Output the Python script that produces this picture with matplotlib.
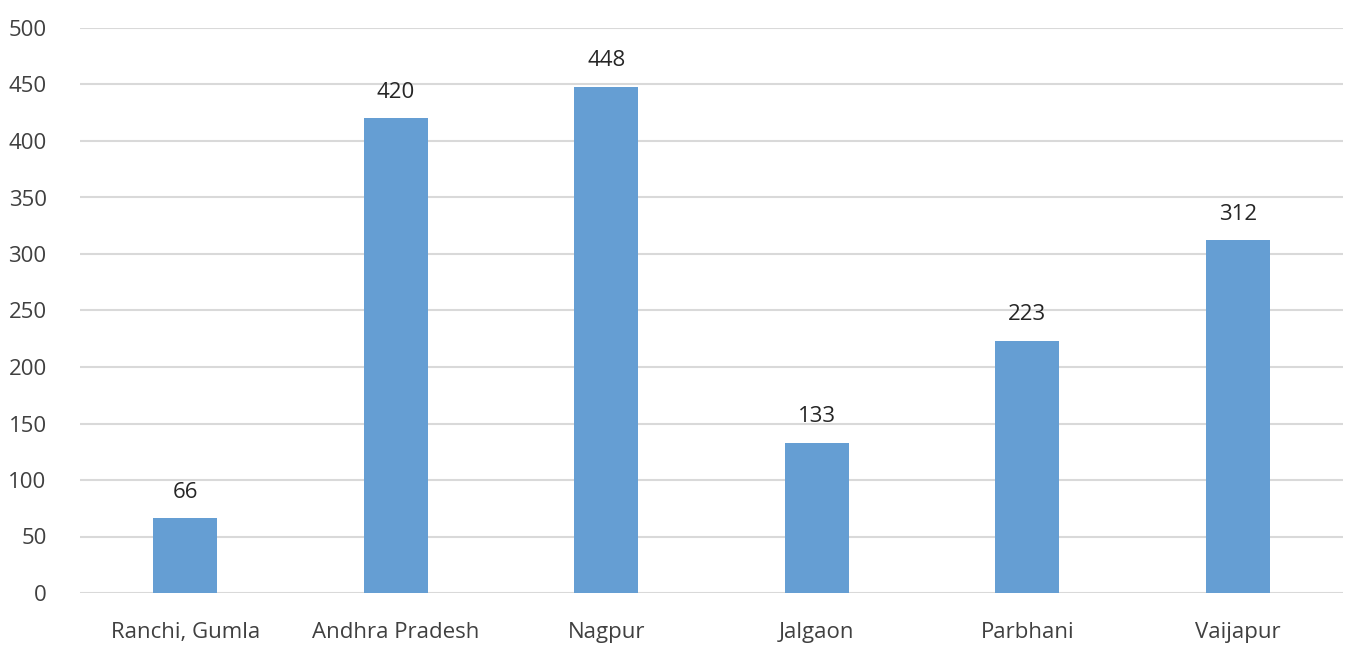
import matplotlib
matplotlib.use("Agg")
import matplotlib.pyplot as plt

categories = ["Ranchi, Gumla", "Andhra Pradesh", "Nagpur", "Jalgaon", "Parbhani", "Vaijapur"]
values = [66, 420, 448, 133, 223, 312]
yticks = [0, 50, 100, 150, 200, 250, 300, 350, 400, 450, 500]

plt.rcParams['font.family'] = ['Open Sans', 'DejaVu Sans']

fig = plt.figure(figsize=(13.46, 6.46), dpi=100)
ax = fig.add_axes([80/1346, 1-593/646, (1343-80)/1346, (593-28)/646])

x = list(range(len(categories)))
bars = ax.bar(x, values, width=0.305, color='#659ed3', zorder=3)
for xi, v in zip(x, values):
    ax.text(xi, v + 14, str(v), ha='center', va='bottom', fontsize=16, color='#262626')

ax.set_xlim(-0.5, len(categories) - 0.5)
ax.set_ylim(0, 500)
ax.set_yticks(yticks)
ax.set_yticklabels([str(t) for t in yticks])
ax.set_xticks(x)
ax.set_xticklabels(categories)
ax.tick_params(axis='both', length=0, labelsize=16, labelcolor='#404040')
ax.tick_params(axis='y', pad=24)
ax.tick_params(axis='x', pad=21)
ax.grid(axis='y', color='#d9d9d9', linewidth=1.5, zorder=0)
for s in ax.spines.values():
    s.set_visible(False)

fig.savefig('out.png', dpi=100)
